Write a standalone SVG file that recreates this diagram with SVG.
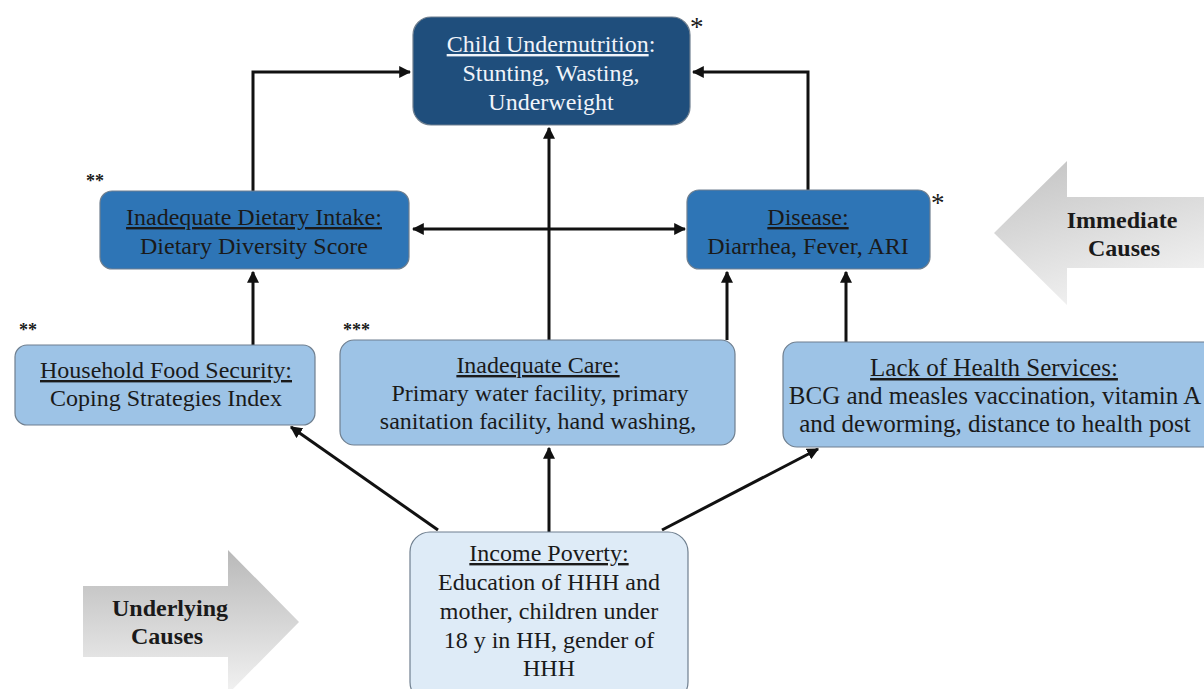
<svg xmlns="http://www.w3.org/2000/svg" width="1204" height="689" viewBox="0 0 1204 689">
<defs>
<marker id="ah" viewBox="0 0 10 10" refX="9" refY="5" markerWidth="4" markerHeight="4" orient="auto-start-reverse" markerUnits="strokeWidth">
<path d="M0,0 L10,5 L0,10 z" fill="#111"/>
</marker>
<linearGradient id="gU" x1="0" y1="0" x2="0" y2="1">
<stop offset="0" stop-color="#b9b9b9"/>
<stop offset="1" stop-color="#f2f2f2"/>
</linearGradient>
<linearGradient id="gI" x1="0" y1="0" x2="0.4" y2="1">
<stop offset="0" stop-color="#c2c2c2"/>
<stop offset="1" stop-color="#f0f0f0"/>
</linearGradient>
</defs>
<style>
text{font-size:24px;fill:#1a1a1a;text-anchor:middle}
.u{text-decoration:underline}
.w{fill:#f0f4fa}
.big{font-size:25px}
.star{font-size:27px;text-anchor:start}
.star2{font-size:18px;text-anchor:start;font-weight:bold}
.lab{font-weight:bold;font-size:24px}
.box{stroke:#6f7f8f;stroke-width:1.2}
.c{stroke:#111;stroke-width:3;fill:none;marker-end:url(#ah)}
</style>
<rect width="1204" height="689" fill="#fff"/>

<g id="connectors">
<path class="c" d="M253,191 V72 H410"/>
<path class="c" d="M808,190 V72 H693"/>
<line class="c" x1="413" y1="229" x2="685" y2="229" style="marker-start:url(#ah)"/>
<path class="c" d="M549,340 V128"/>
<path class="c" d="M727,340 V272"/>
<path class="c" d="M846,342 V272"/>
<path class="c" d="M253,345 V272"/>
<path class="c" d="M438,530 L291,427"/>
<path class="c" d="M549,532 V448"/>
<path class="c" d="M662,530 L818,449"/>
</g>

<g font-family="'Liberation Serif', 'DejaVu Serif', serif">
<g id="arrow-immediate">
<polygon points="1204,197 1067,197 1067,161 994,233 1067,305 1067,268 1204,268" fill="url(#gI)"/>
<text class="lab" x="1122" y="228">Immediate</text>
<text class="lab" x="1124" y="256">Causes</text>
</g>

<g id="arrow-underlying">
<polygon points="83,586 228,586 228,550 299,622 228,694 228,657 83,657" fill="url(#gU)"/>
<text class="lab" x="170" y="616">Underlying</text>
<text class="lab" x="167" y="644">Causes</text>
</g>

<g id="child-undernutrition">
<rect class="box" x="413" y="17" width="277" height="108" rx="18" fill="#1f4e7c"/>
<text class="w" x="551" y="52"><tspan class="u">Child Undernutrition</tspan>:</text>
<text class="w" x="551" y="81">Stunting, Wasting,</text>
<text class="w" x="551" y="110">Underweight</text>
<text class="star" x="690" y="36">*</text>
</g>

<g id="dietary-intake">
<rect class="box" x="100" y="191" width="309" height="78" rx="12" fill="#2e75b6"/>
<text class="u" x="254" y="225">Inadequate Dietary Intake:</text>
<text x="254" y="254">Dietary Diversity Score</text>
<text class="star2" x="86" y="187">**</text>
</g>

<g id="disease">
<rect class="box" x="687" y="190" width="243" height="79" rx="12" fill="#2e75b6"/>
<text class="u" x="808" y="225">Disease:</text>
<text x="808" y="254">Diarrhea, Fever, ARI</text>
<text class="star" x="931" y="212">*</text>
</g>

<g id="household-food-security">
<rect class="box" x="15" y="345" width="300" height="80" rx="12" fill="#9dc3e6"/>
<text class="u" x="166" y="378">Household Food Security:</text>
<text x="166" y="406">Coping Strategies Index</text>
<text class="star2" x="19" y="336">**</text>
</g>

<g id="inadequate-care">
<rect class="box" x="340" y="340" width="395" height="105" rx="14" fill="#9dc3e6"/>
<text class="u" x="538" y="373">Inadequate Care:</text>
<text x="540" y="401">Primary water facility, primary</text>
<text x="538" y="429">sanitation facility, hand washing,</text>
<text class="star2" x="343" y="336">***</text>
</g>

<g id="health-services">
<rect class="box" x="783" y="342" width="440" height="105" rx="14" fill="#9dc3e6"/>
<text class="u big" x="994" y="376">Lack of Health Services:</text>
<text class="big" x="995" y="404">BCG and measles vaccination, vitamin A</text>
<text class="big" x="995" y="432">and deworming, distance to health post</text>
</g>

<g id="income-poverty">
<rect class="box" x="410" y="532" width="278" height="170" rx="20" fill="#deebf7"/>
<text class="u" x="549" y="561">Income Poverty:</text>
<text x="549" y="590">Education of HHH and</text>
<text x="549" y="619">mother, children under</text>
<text x="549" y="648">18 y in HH, gender of</text>
<text x="549" y="676">HHH</text>
</g>
</g>
</svg>
